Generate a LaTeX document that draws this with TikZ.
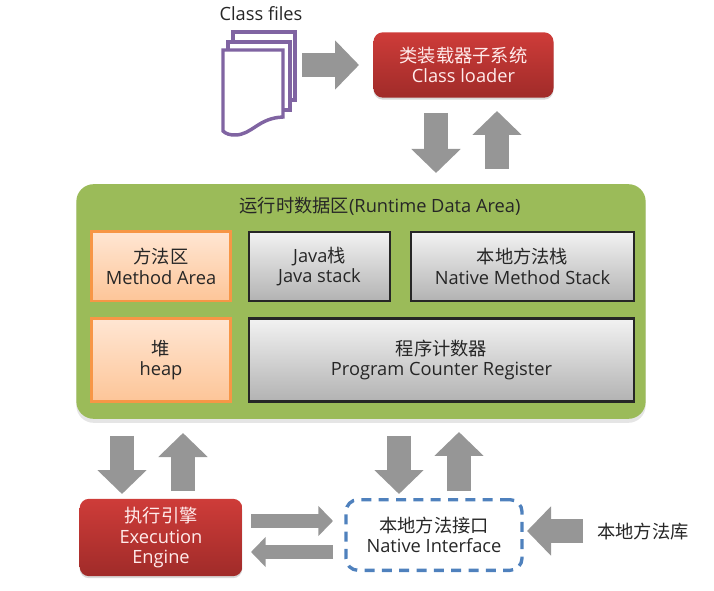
\documentclass[tikz,border=0pt]{standalone}
\usepackage{fontspec}
\setmainfont{Open Sans}
\newfontfamily\cjk{Noto Sans CJK SC}
\usetikzlibrary{arrows.meta,shadows}

\definecolor{panelgreen}{HTML}{9BBB59}
\definecolor{arrowgray}{HTML}{969696}
\definecolor{pagepurple}{HTML}{8064A2}
\definecolor{dashblue}{HTML}{4F81BD}
\definecolor{inktext}{HTML}{262626}
\definecolor{redtop}{HTML}{CE3C39}
\definecolor{redbottom}{HTML}{A02B29}
\definecolor{orangeline}{HTML}{F79646}
\definecolor{orangetop}{HTML}{FFE6D3}
\definecolor{orangebottom}{HTML}{FDC598}

\begin{document}
\begin{tikzpicture}[x=0.75pt,y=-0.75pt]
        \tikzstyle{label}=[text=inktext,align=center,font=\fontsize{13.7}{15.5}\selectfont,inner sep=0pt]
        \tikzstyle{panel}=[rectangle,rounded corners=13pt,fill=panelgreen,drop shadow={shadow xshift=0pt,shadow yshift=-3pt,fill=black!10,opacity=1}]
        \tikzstyle{red box}=[label,rectangle,rounded corners=7pt,top color=redtop,bottom color=redbottom,text=white!92!red,drop shadow={shadow xshift=0pt,shadow yshift=-1.5pt,fill=black!15,opacity=1}]
        \tikzstyle{orange box}=[label,rectangle,draw=orangeline,line width=2pt,top color=orangetop,bottom color=orangebottom]
        \tikzstyle{gray box}=[label,rectangle,draw=inktext,line width=1.8pt,top color=black!5,bottom color=black!30]
        \tikzstyle{dash box}=[label,rectangle,rounded corners=9pt,draw=dashblue,line width=2.5pt,dash pattern=on 7.5pt off 5.5pt]
        \tikzstyle{big arrow}=[draw=arrowgray,line width=18pt,-{Triangle[length=18pt,width=36pt]}]
        \tikzstyle{small arrow}=[draw=arrowgray,line width=11pt,-{Triangle[length=11pt,width=22pt]}]

        \useasboundingbox (0,0) rectangle (714,591);

        % Draw the stack of class files
        \draw[pagepurple,line width=2.6pt,fill=white] (233,32) rectangle (295,100);
        \draw[pagepurple,line width=2.6pt,fill=white] (228,42) rectangle (290,110);
        \draw[pagepurple,line width=2.6pt,fill=white] (223,50) -- (283,50) -- (283,117)
            .. controls (258,118) and (252,135) .. (235,135) .. controls (230,135) and (226,134) .. (223,131) -- cycle;
        \node[label] (files) at (261,14) {Class files};

        % Draw the loader and the runtime data area
        \node[red box,minimum width=135pt,minimum height=49pt] (loader) at (463.5,65) {{\cjk 类装载器子系统}\\Class loader};
        \node[panel,minimum width=427pt,minimum height=176pt] (area) at (361,301.5) {};
        \node[label] (title) at (380,206) {{\cjk 运行时数据区}(Runtime Data Area)};

        % Draw the memory blocks
        \node[orange box,minimum width=104pt,minimum height=52pt] (method) at (161,266.5) {{\cjk 方法区}\\Method Area};
        \node[orange box,minimum width=104pt,minimum height=62pt] (heap) at (161,360) {{\cjk 堆}\\heap};
        \node[gray box,minimum width=106pt,minimum height=52pt] (java) at (319.5,266.5) {Java{\cjk 栈}\\Java stack};
        \node[gray box,minimum width=167pt,minimum height=52pt] (native) at (522.5,266.5) {{\cjk 本地方法栈}\\Native Method Stack};
        \node[gray box,minimum width=289pt,minimum height=62pt] (counter) at (441.5,360) {{\cjk 程序计数器}\\Program Counter Register};

        % Draw the bottom row
        \node[red box,minimum width=122pt,minimum height=58pt] (engine) at (161,537.5) {{\cjk 执行引擎}\\Execution\\Engine};
        \node[dash box,minimum width=132pt,minimum height=53pt] (interface) at (434,535) {{\cjk 本地方法接口}\\Native Interface};
        \node[label] (library) at (643,532) {\cjk 本地方法库};

        % Free ends of the block arrows
        \foreach \name/\x/\y in {fa/302/65,fb/359/65,la/436/113,lb/436/173,lc/497/169,ld/497/111,
            ea/122/436,eb/122/494,ec/183/491,ed/183/433,na/399/436,nb/399/494,nc/459/491,nd/459/432,
            ia/583/531,ib/527/531,ha/251/521,hb/333/521,hc/333/552,hd/251/552}
            \coordinate (\name) at (\x,\y);

        % Connect with the block arrows
        \foreach \source/\target in {fa/fb,la/lb,lc/ld,ea/eb,ec/ed,na/nb,nc/nd,ia/ib}
            \draw[big arrow] (\source) -- (\target);
        \foreach \source/\target in {ha/hb,hc/hd}
            \draw[small arrow] (\source) -- (\target);

    \end{tikzpicture}
\end{document}
